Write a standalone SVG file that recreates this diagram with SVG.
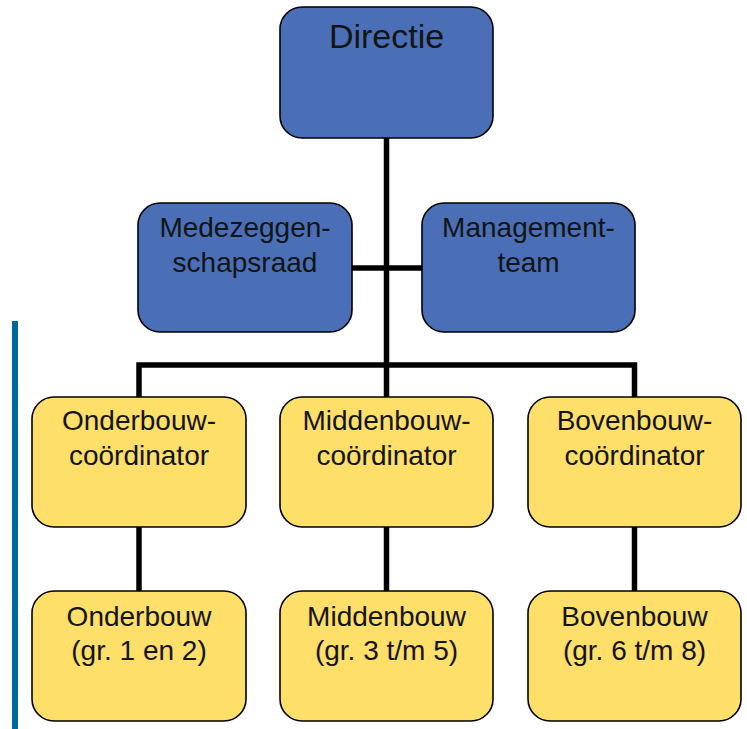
<svg xmlns="http://www.w3.org/2000/svg" width="747" height="729" viewBox="0 0 747 729">
<style>
.box{stroke:#000;stroke-width:1.6}
.blue{fill:#4A6FB6}
.yel{fill:#FEDF6A}
.conn{stroke:#000;stroke-width:5.5;fill:none}
text{font-family:"Liberation Sans",Arial,sans-serif;fill:#141414;text-anchor:middle;font-size:28px}
</style>
<rect x="0" y="0" width="747" height="729" fill="#fff"/>
<rect x="12" y="321" width="6" height="408" fill="#00679A"/>
<g id="connectors">
<path class="conn" d="M386.5 138 V397"/>
<path class="conn" d="M352 268 H422"/>
<path class="conn" d="M139 397 V365 H634.5 V397"/>
<path class="conn" d="M139 527 V591"/>
<path class="conn" d="M386.5 527 V591"/>
<path class="conn" d="M634.5 527 V591"/>
</g>
<g id="directie">
<rect class="box blue" x="280" y="7" width="213" height="131" rx="22"/>
<text x="386.5" y="48" style="font-size:34px">Directie</text>
</g>
<g id="mr">
<rect class="box blue" x="138" y="203" width="214" height="129" rx="22"/>
<text x="245" y="237">Medezeggen-</text>
<text x="245" y="272">schapsraad</text>
</g>
<g id="mt">
<rect class="box blue" x="422" y="203" width="213" height="129" rx="22"/>
<text x="528.5" y="237">Management-</text>
<text x="528.5" y="272">team</text>
</g>
<g id="obc">
<rect class="box yel" x="32" y="397" width="214" height="130" rx="22"/>
<text x="139" y="430">Onderbouw-</text>
<text x="139" y="465">coördinator</text>
</g>
<g id="mbc">
<rect class="box yel" x="280" y="397" width="213" height="130" rx="22"/>
<text x="386.5" y="430">Middenbouw-</text>
<text x="386.5" y="465">coördinator</text>
</g>
<g id="bbc">
<rect class="box yel" x="528" y="397" width="213" height="130" rx="22"/>
<text x="634.5" y="430">Bovenbouw-</text>
<text x="634.5" y="465">coördinator</text>
</g>
<g id="ob">
<rect class="box yel" x="32" y="591" width="214" height="130" rx="22"/>
<text x="139" y="626">Onderbouw</text>
<text x="139" y="660">(gr. 1 en 2)</text>
</g>
<g id="mb">
<rect class="box yel" x="280" y="591" width="213" height="130" rx="22"/>
<text x="386.5" y="626">Middenbouw</text>
<text x="386.5" y="660">(gr. 3 t/m 5)</text>
</g>
<g id="bb">
<rect class="box yel" x="528" y="591" width="213" height="130" rx="22"/>
<text x="634.5" y="626">Bovenbouw</text>
<text x="634.5" y="660">(gr. 6 t/m 8)</text>
</g>
</svg>
